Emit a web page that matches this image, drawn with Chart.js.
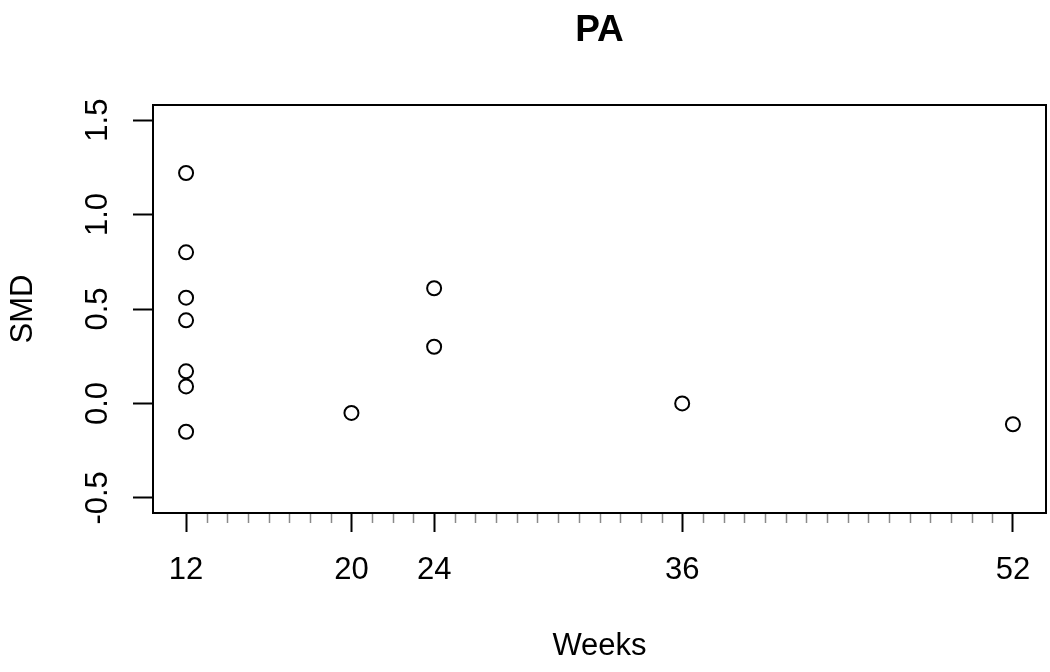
<!DOCTYPE html>
<html>
<head>
<meta charset="utf-8">
<script src="https://cdn.jsdelivr.net/npm/chart.js@4.4.1/dist/chart.umd.min.js"></script>
<style>
html,body{margin:0;padding:0;background:#fff;}
#wrap{width:1050px;height:672px;position:relative;}
</style>
</head>
<body>
<div id="wrap"><canvas id="c" width="1050" height="672"></canvas></div>
<script>
const chartTitle = "PA";
const xTitle = "Weeks";
const yTitle = "SMD";
const weeks = [12, 12, 12, 12, 12, 12, 12, 20, 24, 24, 36, 52];
const smd = [1.22, 0.80, 0.56, 0.44, 0.17, 0.09, -0.15, -0.05, 0.61, 0.30, 0.00, -0.11];
const xMajorTicks = [12, 20, 24, 36, 52];
const yTicks = [-0.5, 0, 0.5, 1.0, 1.5];
const xMinorFrom = 12, xMinorTo = 52;

const FONT = "'Liberation Sans', Arial, Helvetica, sans-serif";

const boxPlugin = {
  id: 'boxAndMinor',
  afterDraw(chart) {
    const ctx = chart.ctx, a = chart.chartArea, xs = chart.scales.x;
    ctx.save();
    // minor ticks
    ctx.strokeStyle = '#8a8a8a';
    ctx.lineWidth = 1.5;
    for (let v = xMinorFrom; v <= xMinorTo; v++) {
      if (xMajorTicks.includes(v)) continue;
      const px = Math.round(xs.getPixelForValue(v)) + 0.5;
      ctx.beginPath();
      ctx.moveTo(px, a.bottom);
      ctx.lineTo(px, a.bottom + 10);
      ctx.stroke();
    }
    // box
    ctx.strokeStyle = '#000';
    ctx.lineWidth = 2;
    ctx.strokeRect(a.left, a.top, a.right - a.left, a.bottom - a.top);
    ctx.restore();
  }
};

new Chart(document.getElementById('c'), {
  type: 'scatter',
  data: {
    datasets: [{
      data: weeks.map((w, i) => ({x: w, y: smd[i]})),
      pointStyle: 'circle',
      pointRadius: 7,
      pointHoverRadius: 7,
      pointBorderWidth: 2,
      pointBorderColor: '#000',
      pointBackgroundColor: 'rgba(0,0,0,0)',
      showLine: false
    }]
  },
  options: {
    responsive: false,
    animation: false,
    events: [],
    layout: {autoPadding: false, padding: {left: 0, right: 4, top: 0, bottom: 0}},
    plugins: {
      legend: {display: false},
      tooltip: {enabled: false},
      title: {
        display: true,
        fullSize: false,
        text: chartTitle,
        color: '#000',
        font: {family: FONT, size: 37, weight: 'bold', lineHeight: 1.2},
        padding: {top: 9, bottom: 51.6}
      }
    },
    scales: {
      x: {
        type: 'linear',
        position: 'bottom',
        min: 10.4,
        max: 53.6,
        afterBuildTicks(scale) {
          const t = [];
          for (let v = xMinorFrom; v <= xMinorTo; v++) t.push({value: v});
          scale.ticks = t;
        },
        afterFit(scale) { scale.height = 159; scale.paddingLeft = 0; scale.paddingRight = 0; },
        grid: {
          drawOnChartArea: false,
          drawTicks: true,
          tickLength: 19,
          tickWidth: 2,
          tickColor: (ctx) => (ctx.tick && xMajorTicks.includes(ctx.tick.value)) ? '#000' : 'rgba(0,0,0,0)'
        },
        border: {display: false},
        ticks: {
          autoSkip: false,
          maxRotation: 0,
          minRotation: 0,
          padding: 20,
          color: '#000',
          font: {family: FONT, size: 31},
          callback: (v) => xMajorTicks.includes(v) ? String(v) : ''
        },
        title: {
          display: true,
          text: xTitle,
          color: '#000',
          font: {family: FONT, size: 31, lineHeight: 1.2},
          padding: {top: 0, bottom: 7}
        }
      },
      y: {
        type: 'linear',
        min: -0.58,
        max: 1.58,
        afterBuildTicks(scale) {
          scale.ticks = yTicks.map(v => ({value: v}));
        },
        afterFit(scale) { scale.width = 153; scale.paddingTop = 0; scale.paddingBottom = 0; },
        grid: {
          drawOnChartArea: false,
          drawTicks: true,
          tickLength: 20,
          tickWidth: 2,
          tickColor: '#000'
        },
        border: {display: false},
        ticks: {
          minRotation: 90,
          maxRotation: 90,
          crossAlign: 'center',
          padding: 8,
          color: '#000',
          font: {family: FONT, size: 31},
          callback: (v) => v.toFixed(1)
        },
        title: {
          display: true,
          text: yTitle,
          color: '#000',
          font: {family: FONT, size: 31, lineHeight: 1.2},
          padding: {top: 4.4, bottom: 0}
        }
      }
    }
  },
  plugins: [boxPlugin]
});
</script>
</body>
</html>
